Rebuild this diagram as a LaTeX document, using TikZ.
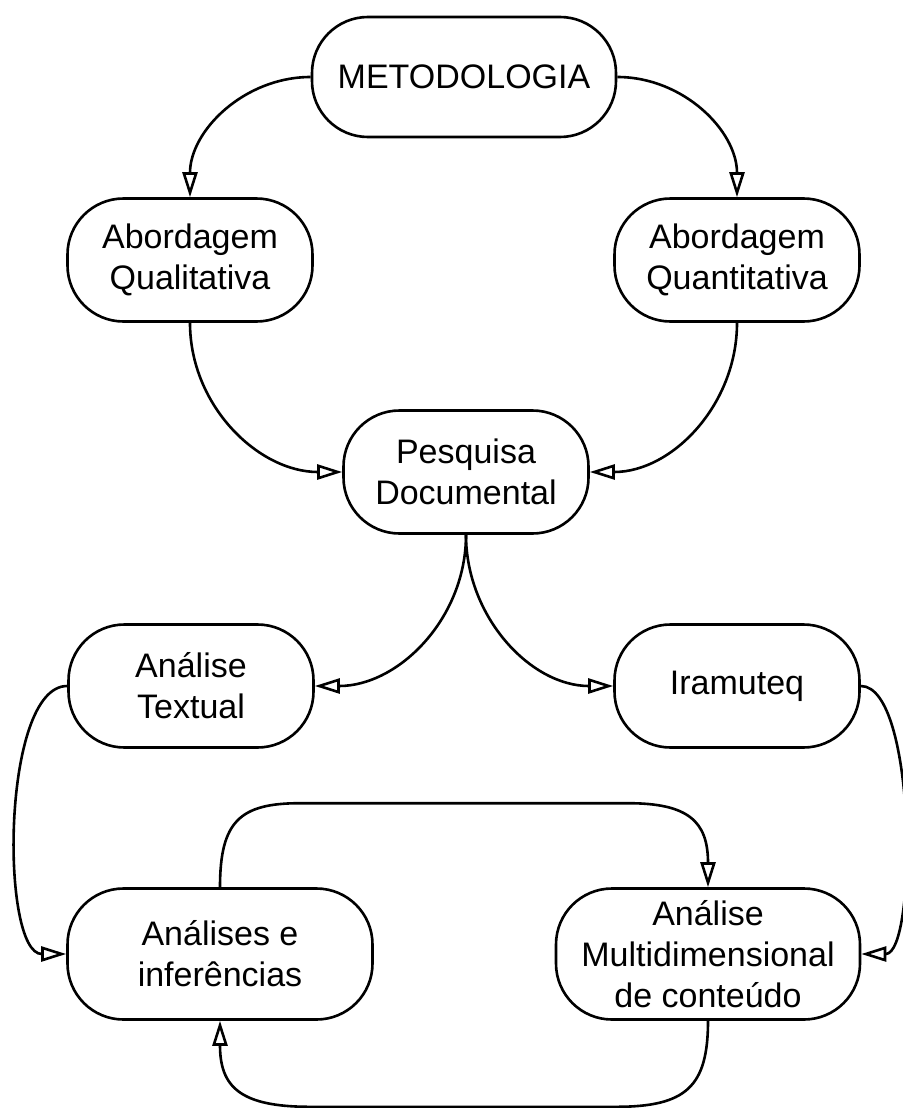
\documentclass[tikz,border=0pt]{standalone}
\usepackage{fontspec}
\setmainfont{Liberation Sans}
\usetikzlibrary{arrows.meta}

\tikzset{
  pill/.style={draw, line width=2.6pt, rounded corners=56pt, fill=white,
    align=center, inner sep=0pt,
    font=\fontsize{34}{41}\selectfont,
    minimum width=#1, minimum height=123pt},
  pill/.default=245pt,
  conn/.style={line width=2.6pt,
    -{Triangle[length=25pt,width=15pt,fill=white,line width=2.6pt]}},
}

\begin{document}
\begin{tikzpicture}[x=1pt,y=-1pt]
  \useasboundingbox (0,0) rectangle (902,1108);

  % boxes
  \node[pill=304pt, minimum height=120pt] (met) at (464,77) {METODOLOGIA};
  \node[pill] (qual) at (190,260) {Abordagem\\Qualitativa};
  \node[pill] (quan) at (737,260) {Abordagem\\Quantitativa};
  \node[pill] (doc)  at (466,472) {Pesquisa\\Documental};
  \node[pill] (txt)  at (191,686) {Análise\\Textual};
  \node[pill] (ira)  at (737,686) {Iramuteq};
  \node[pill=305pt, minimum height=131pt] (inf) at (220,954) {Análises e\\inferências};
  \node[pill=304pt, minimum height=131pt] (mdc) at (708,954) {Análise\\Multidimensional\\de conteúdo};

  % connectors
  \draw[conn] (met.west) to[out=180,in=90] (qual.north);
  \draw[conn] (met.east) to[out=0,in=90] (quan.north);
  \draw[conn] (qual.south) to[out=-90,in=180] (doc.west);
  \draw[conn] (quan.south) to[out=-90,in=0] (doc.east);
  \draw[conn] (doc.south) to[out=-90,in=0] (txt.east);
  \draw[conn] (doc.south) to[out=-90,in=180] (ira.west);

  \draw[conn] (txt.west) .. controls +(-66,0) and +(-66,0) .. (inf.west);
  \draw[conn] (ira.east) .. controls +(56,0) and +(56,0) .. (mdc.east);

  \draw[conn] (inf.north) .. controls +(0,-66) and +(-60,0) .. ++(80,-84)
    -- ++(328,0) .. controls +(60,0) and +(0,-66) .. (mdc.north);
  \draw[conn] (mdc.south) .. controls +(0,66) and +(70,0) .. ++(-92,86)
    -- ++(-306,0) .. controls +(-70,0) and +(0,66) .. (inf.south);
\end{tikzpicture}
\end{document}
